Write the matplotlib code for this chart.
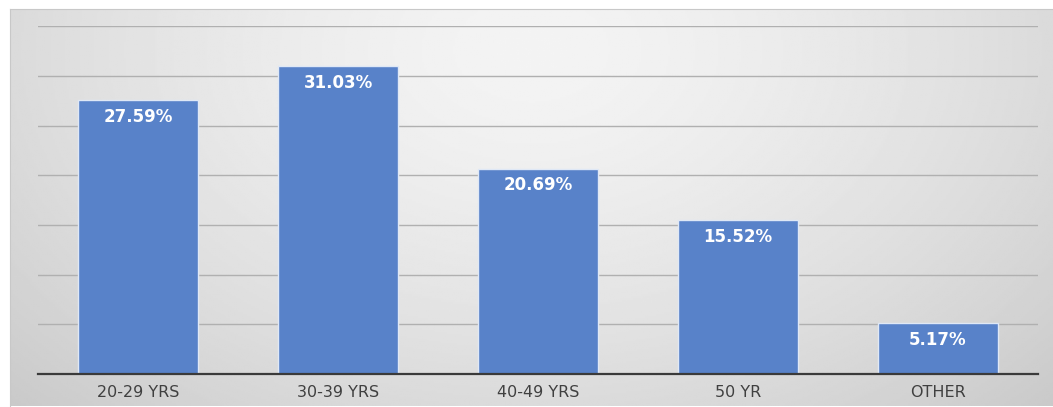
import numpy as np
import matplotlib.pyplot as plt

groups = ['20-29 YRS', '30-39 YRS', '40-49 YRS', '50 YR', 'OTHER']
shares = [27.59, 31.03, 20.69, 15.52, 5.17]

fig = plt.figure(figsize=(10.53, 4.07), dpi=100)

# shaded panel behind the chart
bg = fig.add_axes([0.0095, 0.0025, 0.9905, 0.975])
yy, xx = np.mgrid[0:1:200j, 0:1:500j]
r = np.sqrt(((xx - 0.5) / 0.72) ** 2 + ((yy - 0.1) / 1.3) ** 2)
shade = 0.955 - 0.17 * r ** 1.5
bg.imshow(shade, cmap='gray', vmin=0, vmax=1, aspect='auto', extent=[0, 1, 1, 0])
bg.set_xlim(0, 1)
bg.set_ylim(1, 0)
for side, s in bg.spines.items():
    s.set_color('#c8c8c8')
    s.set_linewidth(0.8)
    if side in ('right', 'bottom'):
        s.set_visible(False)
bg.set_xticks([])
bg.set_yticks([])

ax = fig.add_axes([0.0361, 0.0811, 0.9497, 0.8538])
ax.patch.set_alpha(0)
x = np.arange(len(groups))
bars = ax.bar(x, shares, width=0.6, color='#5882c9', edgecolor='#dfe8f6',
              linewidth=1.0, zorder=3)
for b, v in zip(bars, shares):
    ax.text(b.get_x() + b.get_width() / 2, v - 1.7, f'{v:.2f}%',
            ha='center', va='center', color='white', fontsize=12,
            fontweight='bold', zorder=4)

ax.set_xlim(-0.5, 4.5)
ax.set_ylim(0, 35)
ax.set_yticks(np.arange(5, 36, 5))
ax.yaxis.grid(True, color='#b0b0b0', linewidth=1.0, zorder=1)
ax.tick_params(axis='y', left=False, labelleft=False)
ax.tick_params(axis='x', length=0, pad=8, labelsize=11.5, labelcolor='#404040')
ax.set_xticks(x)
ax.set_xticklabels(groups)
for side in ['top', 'right', 'left']:
    ax.spines[side].set_visible(False)
ax.spines['bottom'].set_color('#3a3a3a')
ax.spines['bottom'].set_linewidth(1.6)
ax.spines['bottom'].set_zorder(5)

fig.savefig('out.png', dpi=100)
